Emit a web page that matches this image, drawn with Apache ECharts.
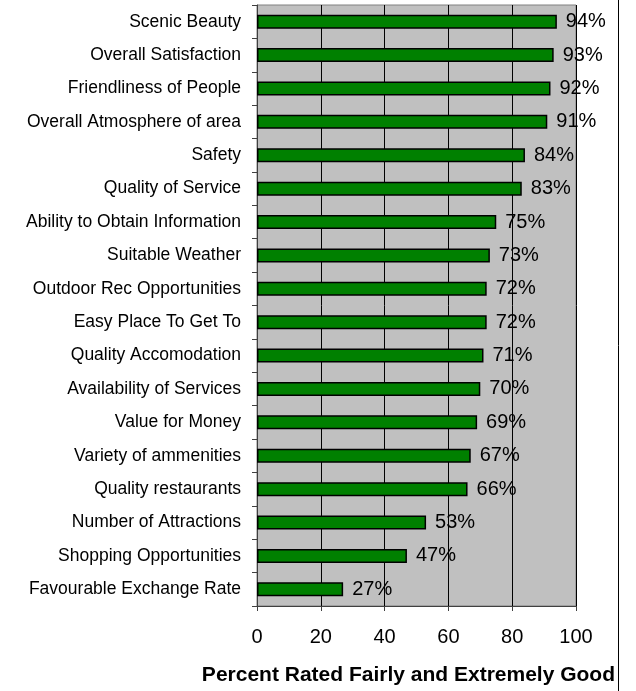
<!DOCTYPE html>
<html><head><meta charset="utf-8">
<script src="https://cdn.jsdelivr.net/npm/echarts@6/dist/echarts.min.js"></script>
<style>html,body{margin:0;padding:0;background:#fff}#c{width:636px;height:691px}</style>
</head><body><div id="c"></div>
<script>
var categories = ["Scenic Beauty","Overall Satisfaction","Friendliness of People","Overall Atmosphere of area","Safety","Quality of Service","Ability to Obtain Information","Suitable Weather","Outdoor Rec Opportunities","Easy Place To Get To","Quality Accomodation","Availability of Services","Value for Money","Variety of ammenities","Quality restaurants","Number of Attractions","Shopping Opportunities","Favourable Exchange Rate"];
var values = [94,93,92,91,84,83,75,73,72,72,71,70,69,67,66,53,47,27];
var xTicks = [0,20,40,60,80,100];
var axisTitle = "Percent Rated Fairly and Extremely Good";
var F = "'Liberation Sans', Arial, sans-serif";
var chart = echarts.init(document.getElementById('c'));
chart.setOption({
  animation: false,
  grid: {left: 257, top: 5, right: 60, bottom: 85, show: true, backgroundColor: '#c0c0c0', borderColor: '#808080', borderWidth: 1},
  xAxis: {type: 'value', min: 0, max: 100, interval: 20,
    axisLine: {show: true, lineStyle: {color: '#404040', width: 1}},
    axisTick: {show: true, length: 5, lineStyle: {color: '#404040'}},
    axisLabel: {color: '#000', fontSize: 20, fontFamily: F, margin: 21},
    splitLine: {show: true, lineStyle: {color: '#000', width: 1}}
  },
  yAxis: {type: 'category', data: categories, inverse: true,
    axisLine: {show: true, lineStyle: {color: '#404040', width: 1}},
    axisTick: {show: true, length: 5, lineStyle: {color: '#404040'}},
    axisLabel: {color: '#000', fontSize: 17.5, fontFamily: F, margin: 16}
  },
  series: [{type: 'bar', data: values, barWidth: 14,
    itemStyle: {color: '#008000', borderColor: '#000', borderWidth: 1.5},
    label: {show: true, position: 'right', distance: 9, formatter: '{c}%', color: '#000', fontSize: 20, fontFamily: F}
  }],
  graphic: [
    {type: 'line', shape: {x1: 618.5, y1: 0, x2: 618.5, y2: 691}, style: {stroke: '#000', lineWidth: 1}},
    {type: 'text', right: 21, top: 665, style: {text: axisTitle, fontSize: 21, fontWeight: 'bold', fontFamily: F, fill: '#000'}}
  ]
});
</script></body></html>
